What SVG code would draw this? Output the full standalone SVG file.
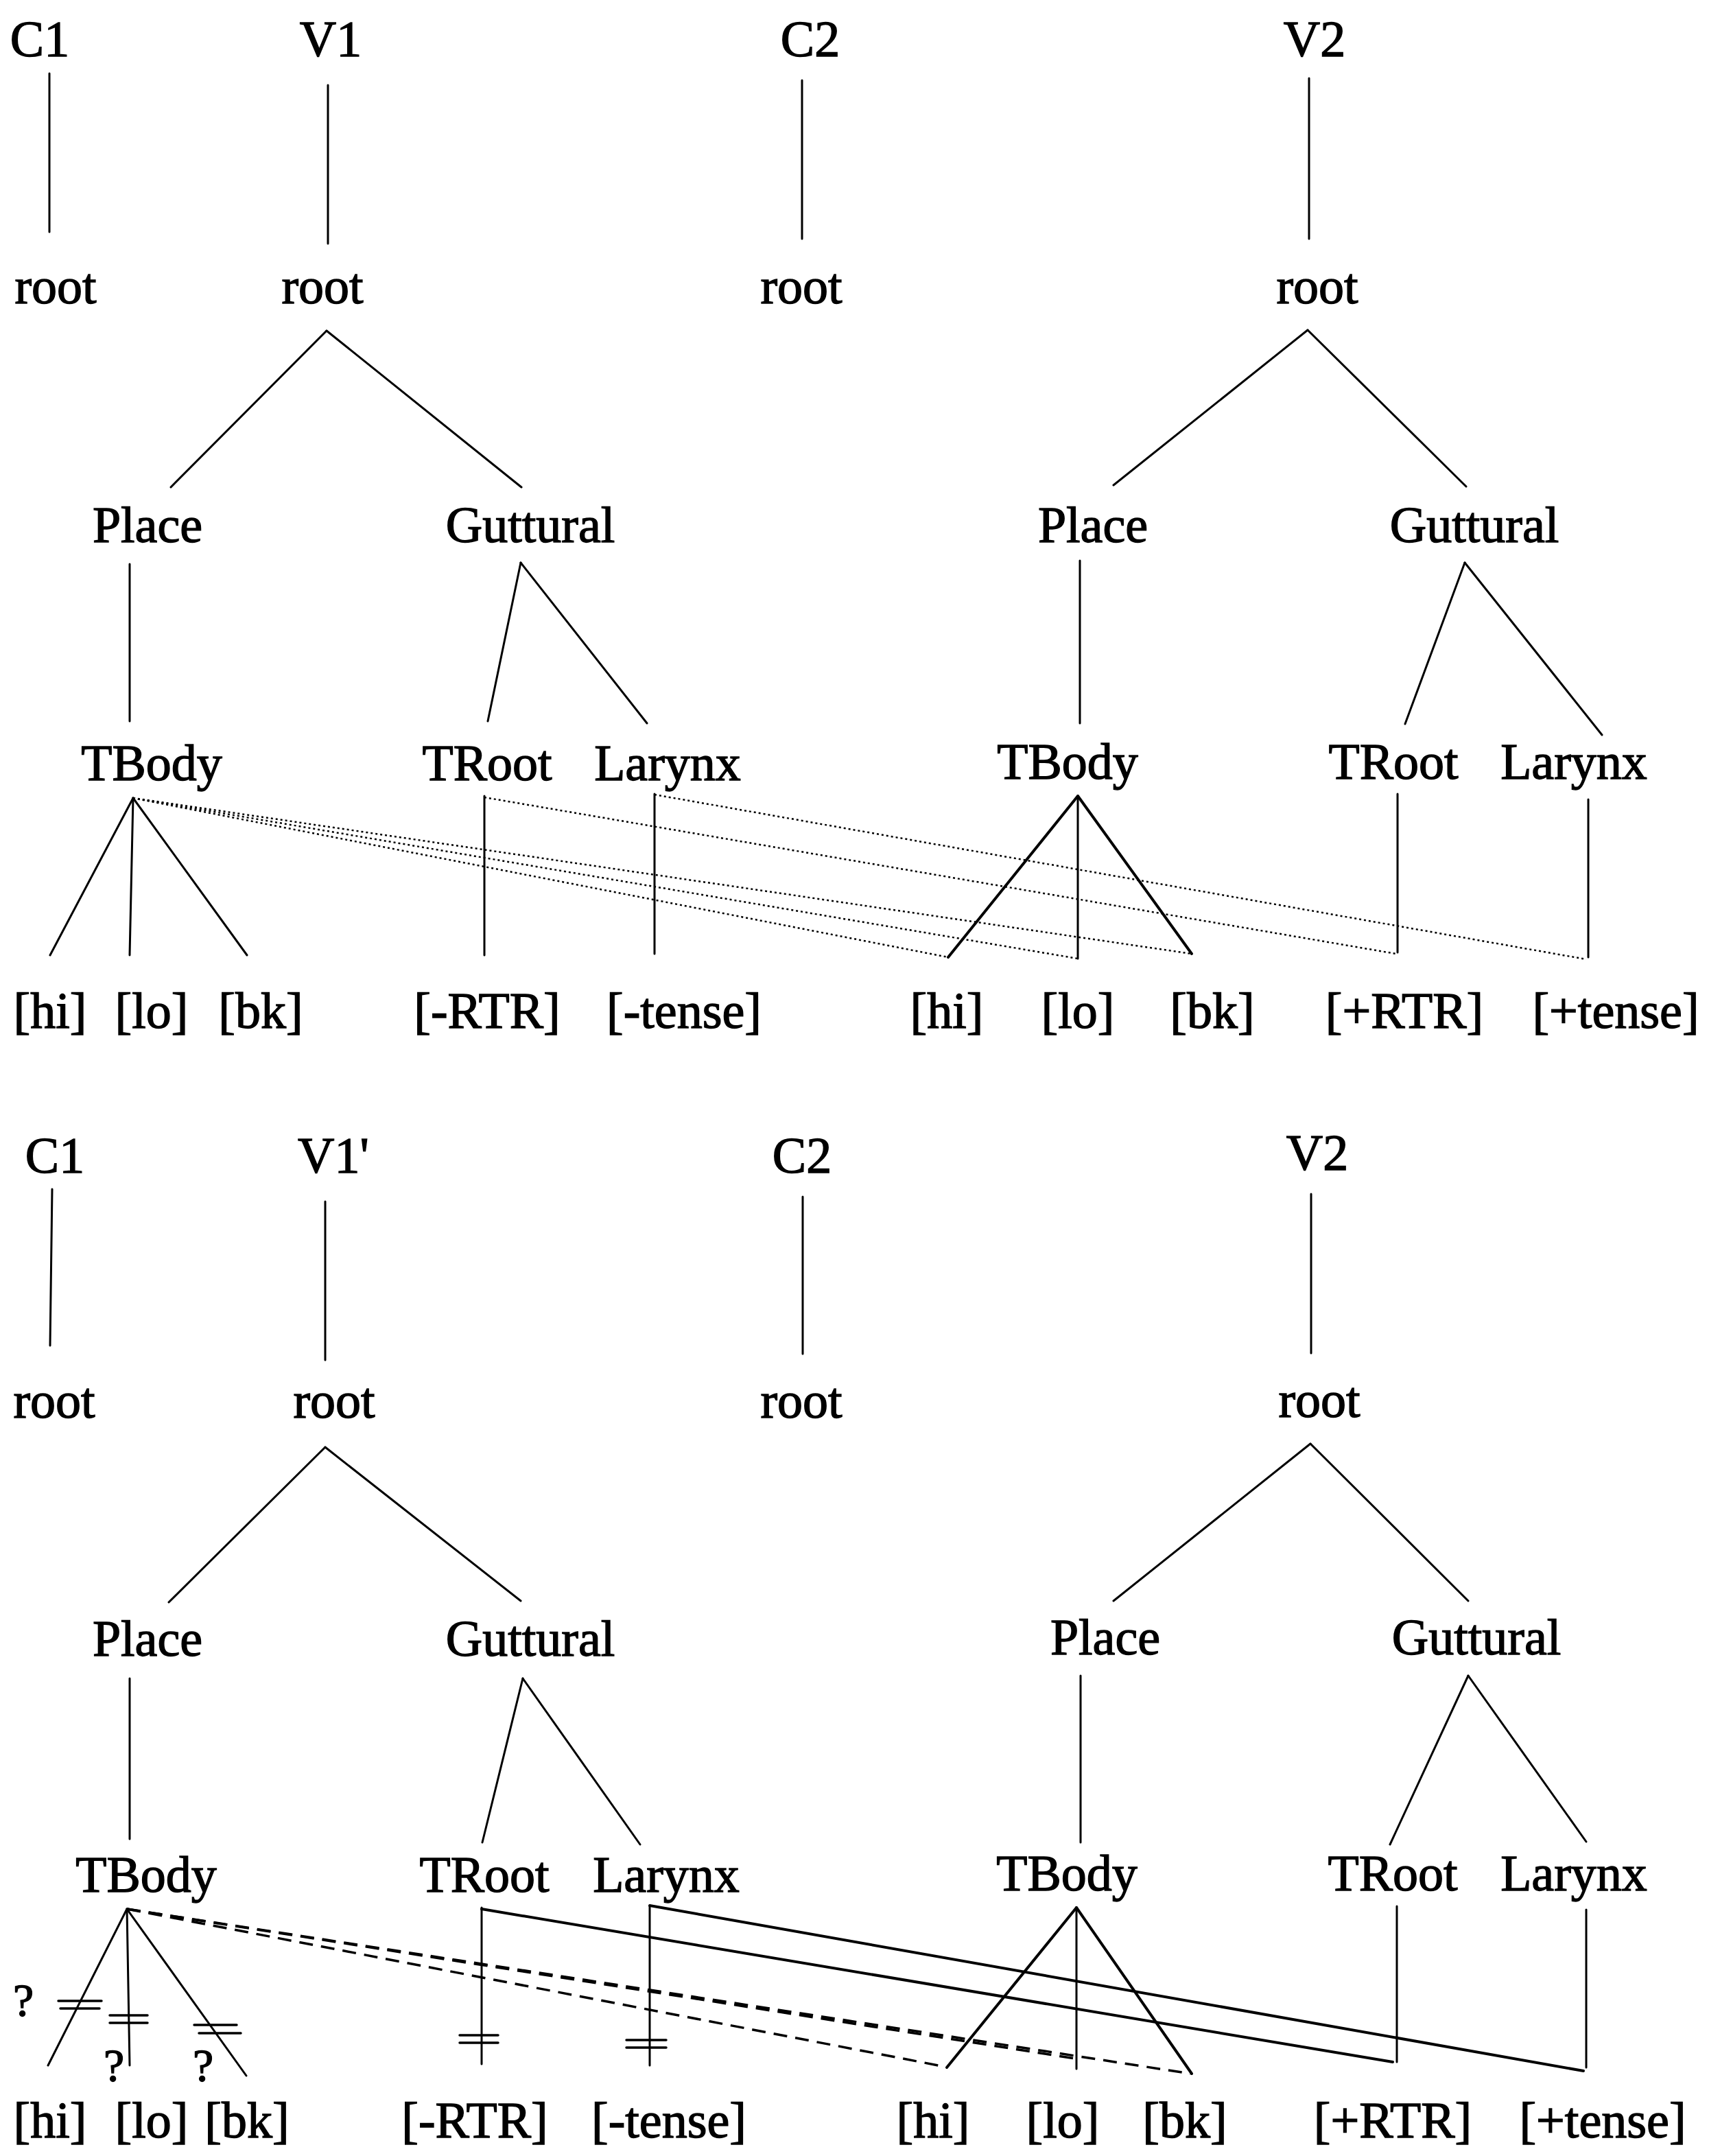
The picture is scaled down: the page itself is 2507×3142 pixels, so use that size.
<svg xmlns="http://www.w3.org/2000/svg" width="2507" height="3142" viewBox="0 0 2507 3142">
<style>
text{font-family:"Liberation Serif","Times New Roman",serif;font-size:74px;fill:#000;stroke:#000;stroke-width:1.4;text-anchor:middle}
.q{font-size:68px}
line{stroke:#000;stroke-width:3;stroke-linecap:round}
.dot{stroke-width:2.5;stroke-dasharray:3 4;stroke-linecap:butt}
.dash{stroke-width:3.5;stroke-dasharray:20 12;stroke-linecap:butt}
.sol{stroke-width:4}
.bar{stroke-width:3.5}
</style>
<rect width="2507" height="3142" fill="#fff"/>
<g id="top">
<g id="t-C1"><text x="58" y="82">C1</text></g>
<g id="t-V1"><text x="482" y="82">V1</text></g>
<g id="t-C2"><text x="1181" y="82">C2</text></g>
<g id="t-V2"><text x="1916" y="82">V2</text></g>
<g id="t-root1"><text x="81" y="442">root</text></g>
<g id="t-root2"><text x="470" y="442">root</text></g>
<g id="t-root3"><text x="1168" y="442">root</text></g>
<g id="t-root4"><text x="1920" y="442">root</text></g>
<g id="t-place1"><text x="215" y="790">Place</text></g>
<g id="t-gutt1"><text x="773" y="790">Guttural</text></g>
<g id="t-place2"><text x="1593" y="790">Place</text></g>
<g id="t-gutt2"><text x="2149" y="790">Guttural</text></g>
<g id="t-tbody1"><text x="221" y="1137">TBody</text></g>
<g id="t-troot1"><text x="710" y="1137">TRoot</text></g>
<g id="t-larynx1"><text x="973" y="1137">Larynx</text></g>
<g id="t-tbody2"><text x="1556" y="1135">TBody</text></g>
<g id="t-troot2"><text x="2031" y="1135">TRoot</text></g>
<g id="t-larynx2"><text x="2294" y="1135">Larynx</text></g>
<g id="t-hi1"><text x="73" y="1498">[hi]</text></g>
<g id="t-lo1"><text x="221" y="1498">[lo]</text></g>
<g id="t-bk1"><text x="380" y="1498">[bk]</text></g>
<g id="t-rtr1"><text x="710" y="1498">[-RTR]</text></g>
<g id="t-tense1"><text x="997" y="1498">[-tense]</text></g>
<g id="t-hi2"><text x="1380" y="1498">[hi]</text></g>
<g id="t-lo2"><text x="1571" y="1498">[lo]</text></g>
<g id="t-bk2"><text x="1767" y="1498">[bk]</text></g>
<g id="t-rtr2"><text x="2047" y="1498">[+RTR]</text></g>
<g id="t-tense2"><text x="2355" y="1498">[+tense]</text></g>
</g>
<g id="bottom">
<g id="b-C1"><text x="80" y="1709">C1</text></g>
<g id="b-V1p"><text x="486" y="1709">V1'</text></g>
<g id="b-C2"><text x="1169" y="1709">C2</text></g>
<g id="b-V2"><text x="1920" y="1705">V2</text></g>
<g id="b-root1"><text x="79" y="2066">root</text></g>
<g id="b-root2"><text x="487" y="2066">root</text></g>
<g id="b-root3"><text x="1168" y="2066">root</text></g>
<g id="b-root4"><text x="1923" y="2065">root</text></g>
<g id="b-place1"><text x="215" y="2413">Place</text></g>
<g id="b-gutt1"><text x="773" y="2413">Guttural</text></g>
<g id="b-place2"><text x="1611" y="2411">Place</text></g>
<g id="b-gutt2"><text x="2152" y="2411">Guttural</text></g>
<g id="b-tbody1"><text x="213" y="2757">TBody</text></g>
<g id="b-troot1"><text x="706" y="2757">TRoot</text></g>
<g id="b-larynx1"><text x="971" y="2757">Larynx</text></g>
<g id="b-tbody2"><text x="1555" y="2755">TBody</text></g>
<g id="b-troot2"><text x="2030" y="2755">TRoot</text></g>
<g id="b-larynx2"><text x="2294" y="2755">Larynx</text></g>
<g id="b-hi1"><text x="73" y="3115">[hi]</text></g>
<g id="b-lo1"><text x="221" y="3115">[lo]</text></g>
<g id="b-bk1"><text x="360" y="3115">[bk]</text></g>
<g id="b-rtr1"><text x="692" y="3115">[-RTR]</text></g>
<g id="b-tense1"><text x="975" y="3115">[-tense]</text></g>
<g id="b-hi2"><text x="1360" y="3115">[hi]</text></g>
<g id="b-lo2"><text x="1549" y="3115">[lo]</text></g>
<g id="b-bk2"><text x="1727" y="3115">[bk]</text></g>
<g id="b-rtr2"><text x="2030" y="3115">[+RTR]</text></g>
<g id="b-tense2"><text x="2336" y="3115">[+tense]</text></g>
<g id="b-q"><text class="q" x="34" y="2938">?</text><text class="q" x="166" y="3033">?</text><text class="q" x="296" y="3033">?</text></g>
</g>
<g id="connectors">
<line x1="72" y1="107" x2="72" y2="338"/>
<line x1="478" y1="124" x2="478" y2="355"/>
<line x1="1169" y1="117" x2="1169" y2="348"/>
<line x1="1908" y1="114" x2="1908" y2="348"/>
<line x1="476" y1="482" x2="249" y2="710"/>
<line x1="476" y1="482" x2="760" y2="710"/>
<line x1="1906" y1="481" x2="1623" y2="707"/>
<line x1="1906" y1="481" x2="2137" y2="709"/>
<line x1="189" y1="822" x2="189" y2="1051"/>
<line x1="1574" y1="817" x2="1574" y2="1054"/>
<line x1="759" y1="820" x2="711" y2="1051"/>
<line x1="759" y1="820" x2="943" y2="1054"/>
<line x1="2135" y1="820" x2="2048" y2="1055"/>
<line x1="2135" y1="820" x2="2335" y2="1071"/>
<line x1="194" y1="1163" x2="73" y2="1392"/>
<line x1="194" y1="1163" x2="189" y2="1392"/>
<line x1="194" y1="1163" x2="360" y2="1392"/>
<line x1="706" y1="1160" x2="706" y2="1392"/>
<line x1="954" y1="1157" x2="954" y2="1390"/>
<line x1="1571" y1="1160" x2="1382" y2="1395" class="sol"/>
<line x1="1571" y1="1160" x2="1571" y2="1397"/>
<line x1="1571" y1="1160" x2="1737" y2="1390" class="sol"/>
<line x1="2037" y1="1157" x2="2037" y2="1388"/>
<line x1="2315" y1="1165" x2="2315" y2="1395"/>
<line class="dot" x1="194" y1="1163" x2="1382" y2="1395"/>
<line class="dot" x1="194" y1="1163" x2="1571" y2="1397"/>
<line class="dot" x1="194" y1="1163" x2="1737" y2="1390"/>
<line class="dot" x1="706" y1="1162" x2="2035" y2="1390"/>
<line class="dot" x1="954" y1="1158" x2="2312" y2="1398"/>
<line x1="76" y1="1733" x2="73" y2="1961"/>
<line x1="474" y1="1751" x2="474" y2="1982"/>
<line x1="1170" y1="1744" x2="1170" y2="1973"/>
<line x1="1911" y1="1740" x2="1911" y2="1972"/>
<line x1="474" y1="2109" x2="246" y2="2335"/>
<line x1="474" y1="2109" x2="759" y2="2333"/>
<line x1="1910" y1="2104" x2="1623" y2="2333"/>
<line x1="1910" y1="2104" x2="2140" y2="2333"/>
<line x1="189" y1="2446" x2="189" y2="2680"/>
<line x1="1575" y1="2442" x2="1575" y2="2685"/>
<line x1="762" y1="2446" x2="703" y2="2685"/>
<line x1="762" y1="2446" x2="933" y2="2688"/>
<line x1="2140" y1="2442" x2="2026" y2="2688"/>
<line x1="2140" y1="2442" x2="2312" y2="2684"/>
<line x1="185" y1="2782" x2="70" y2="3010"/>
<line x1="185" y1="2782" x2="189" y2="3010"/>
<line x1="185" y1="2782" x2="359" y2="3025"/>
<line x1="702" y1="2780" x2="702" y2="3008"/>
<line x1="947" y1="2777" x2="947" y2="3010"/>
<line x1="1569" y1="2780" x2="1380" y2="3013" class="sol"/>
<line x1="1569" y1="2780" x2="1569" y2="3015"/>
<line x1="1569" y1="2780" x2="1737" y2="3022" class="sol"/>
<line x1="2036" y1="2778" x2="2036" y2="3005"/>
<line x1="2312" y1="2783" x2="2312" y2="3013"/>
<line class="sol" x1="702" y1="2782" x2="2030" y2="3005"/>
<line class="sol" x1="947" y1="2777" x2="2308" y2="3018"/>
<line class="dash" x1="185" y1="2782" x2="1378" y2="3012"/>
<line class="dash" x1="185" y1="2782" x2="1567" y2="3000"/>
<line class="dash" x1="185" y1="2782" x2="1735" y2="3022"/>
<line class="bar" x1="85" y1="2916" x2="148" y2="2916"/>
<line class="bar" x1="88" y1="2927" x2="145" y2="2927"/>
<line class="bar" x1="160" y1="2937" x2="215" y2="2937"/>
<line class="bar" x1="160" y1="2948" x2="215" y2="2948"/>
<line class="bar" x1="283" y1="2951" x2="345" y2="2951"/>
<line class="bar" x1="290" y1="2963" x2="351" y2="2963"/>
<line class="bar" x1="670" y1="2966" x2="726" y2="2966"/>
<line class="bar" x1="670" y1="2977" x2="726" y2="2977"/>
<line class="bar" x1="913" y1="2973" x2="971" y2="2973"/>
<line class="bar" x1="913" y1="2984" x2="971" y2="2984"/>
</g>
</svg>
